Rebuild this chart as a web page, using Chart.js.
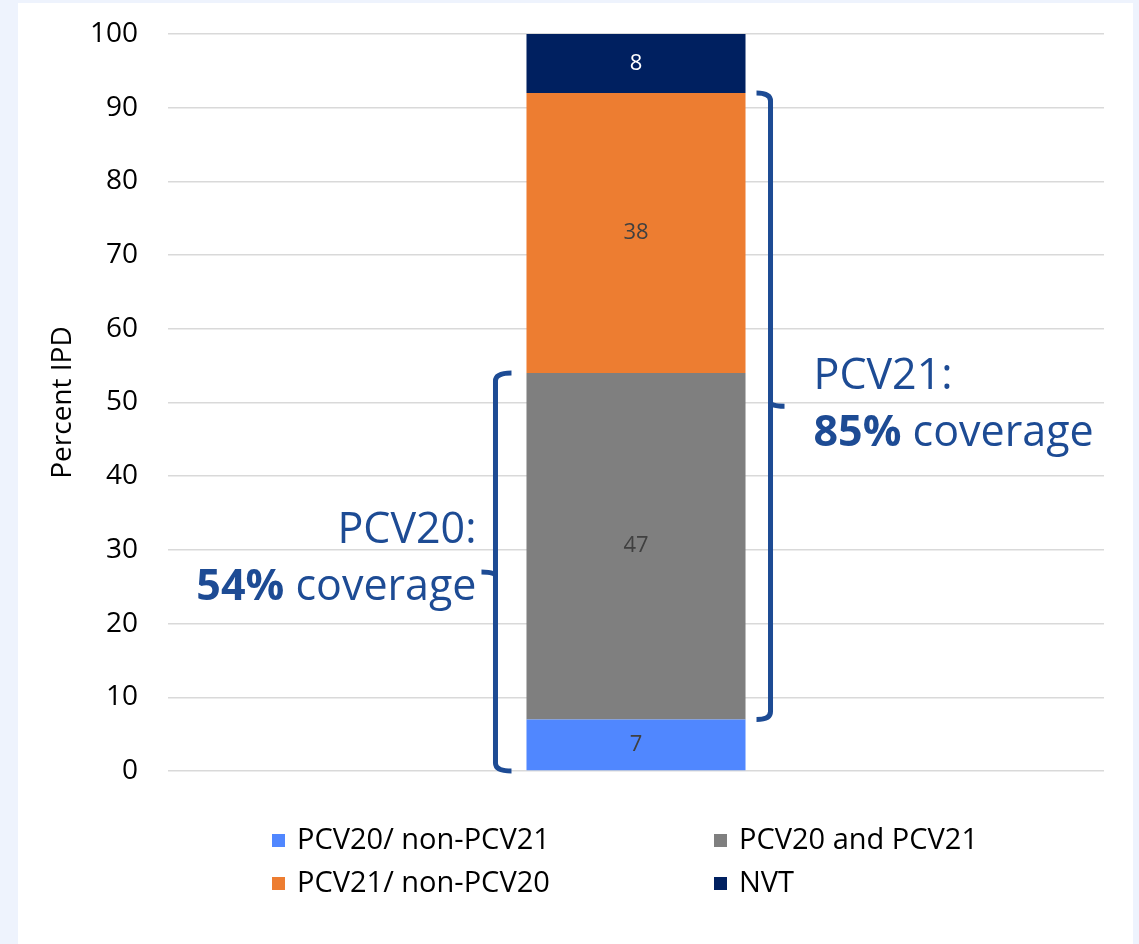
<!DOCTYPE html>
<html>
<head>
<meta charset="utf-8">
<script src="https://cdn.jsdelivr.net/npm/chart.js@4"></script>
<style>
  html, body { margin: 0; padding: 0; background: #eef3fd; }
  #panel { position: absolute; left: 18px; top: 3px; width: 1115px; height: 941px; background: #ffffff; }
</style>
</head>
<body>
<div id="panel"><canvas id="chart" width="1115" height="941"></canvas></div>
<script>
// chart data
const categories = ["IPD"];
const seriesNames = ["PCV20/ non-PCV21", "PCV20 and PCV21", "PCV21/ non-PCV20", "NVT"];
const seriesValues = [[7], [47], [38], [8]];
const seriesColors = ["#5087ff", "#7f7f7f", "#ed7d31", "#002060"];
const labelColors = ["#404040", "#404040", "#404040", "#ffffff"];
const yTicks = [0, 10, 20, 30, 40, 50, 60, 70, 80, 90, 100];

const BLUE = "#1d4b94";
const FONT = "'Open Sans', sans-serif";

// value labels in the middle of each segment
const segmentLabels = {
  id: "segmentLabels",
  afterDatasetsDraw(chart) {
    const ctx = chart.ctx;
    ctx.save();
    ctx.font = "22px " + FONT;
    ctx.textAlign = "center";
    ctx.textBaseline = "middle";
    chart.data.datasets.forEach((ds, i) => {
      chart.getDatasetMeta(i).data.forEach((bar, j) => {
        const p = bar.getProps(["x", "y", "base"], true);
        ctx.fillStyle = labelColors[i];
        ctx.fillText(ds.data[j], p.x, (p.y + p.base) / 2);
      });
    });
    ctx.restore();
  }
};

// draw a line of text made of [text, bold] parts
function drawParts(ctx, parts, x, y, align) {
  const size = 43;
  const widths = parts.map(p => {
    ctx.font = (p[1] ? "bold " : "") + size + "px " + FONT;
    return ctx.measureText(p[0]).width;
  });
  const total = widths.reduce((a, b) => a + b, 0);
  let cx = align === "right" ? x - total : x;
  parts.forEach((p, k) => {
    ctx.font = (p[1] ? "bold " : "") + size + "px " + FONT;
    ctx.fillText(p[0], cx, y);
    cx += widths[k];
  });
}

// coverage brackets and texts
const coverage = {
  id: "coverage",
  afterDraw(chart) {
    const ctx = chart.ctx;
    const y = chart.scales.y;
    const bar = chart.getDatasetMeta(0).data[0];
    const half = bar.width / 2;
    const v = seriesValues.map(s => s[0]);
    const pcv20 = v[0] + v[1];
    const pcv21 = v[1] + v[2];

    ctx.save();
    ctx.strokeStyle = BLUE;
    ctx.fillStyle = BLUE;
    ctx.lineWidth = 5;
    ctx.lineJoin = "round";

    // left bracket: 0 .. pcv20
    let bx = bar.x - half - 31;
    let top = y.getPixelForValue(pcv20), bot = y.getPixelForValue(0), mid = (top + bot) / 2;
    ctx.beginPath();
    ctx.moveTo(bx + 16, top);
    ctx.quadraticCurveTo(bx, top, bx, top + 8);
    ctx.lineTo(bx, bot - 8);
    ctx.quadraticCurveTo(bx, bot, bx + 16, bot);
    ctx.moveTo(bx, mid + 4);
    ctx.quadraticCurveTo(bx, mid, bx - 14, mid);
    ctx.stroke();
    ctx.textBaseline = "alphabetic";
    drawParts(ctx, [["PCV20:", false]], bx - 19, mid - 29, "right");
    drawParts(ctx, [[pcv20 + "%", true], [" coverage", false]], bx - 19, mid + 28, "right");

    // right bracket: v[0] .. v[0]+pcv21
    bx = bar.x + half + 25;
    top = y.getPixelForValue(v[0] + pcv21); bot = y.getPixelForValue(v[0]); mid = (top + bot) / 2;
    ctx.beginPath();
    ctx.moveTo(bx - 14, top);
    ctx.quadraticCurveTo(bx, top, bx, top + 8);
    ctx.lineTo(bx, bot - 8);
    ctx.quadraticCurveTo(bx, bot, bx - 14, bot);
    ctx.moveTo(bx, mid - 4);
    ctx.quadraticCurveTo(bx, mid, bx + 14, mid);
    ctx.stroke();
    drawParts(ctx, [["PCV21:", false]], bx + 43, mid - 17, "left");
    drawParts(ctx, [[pcv21 + "%", true], [" coverage", false]], bx + 43, mid + 40, "left");
    ctx.restore();
  }
};

// two column legend under the plot
const gridLegend = {
  id: "gridLegend",
  afterDraw(chart) {
    const ctx = chart.ctx;
    const a = chart.chartArea;
    const cols = [a.left + 104, a.left + 546];
    const rows = [a.bottom + 70, a.bottom + 113];
    ctx.save();
    ctx.font = "29px " + FONT;
    ctx.textBaseline = "middle";
    ctx.textAlign = "left";
    chart.data.datasets.forEach((ds, i) => {
      const x = cols[i % 2], yy = rows[Math.floor(i / 2)];
      ctx.fillStyle = ds.backgroundColor;
      ctx.fillRect(x, yy - 7, 13, 13);
      ctx.fillStyle = "#000000";
      ctx.fillText(ds.label, x + 25, yy);
    });
    ctx.restore();
  }
};

new Chart(document.getElementById("chart"), {
  type: "bar",
  data: {
    labels: categories,
    datasets: seriesNames.map((name, i) => ({
      label: name,
      data: seriesValues[i],
      backgroundColor: seriesColors[i],
      borderWidth: 0,
      barPercentage: 0.234,
      categoryPercentage: 1
    }))
  },
  options: {
    responsive: false,
    animation: false,
    layout: { padding: { left: 0, top: 31, right: 29, bottom: 173 } },
    plugins: {
      legend: { display: false },
      tooltip: { enabled: false }
    },
    scales: {
      x: {
        stacked: true,
        display: false
      },
      y: {
        stacked: true,
        min: 0,
        max: 100,
        afterFit(scale) {
          scale.width = 150;
          scale.paddingTop = 0;
          scale.paddingBottom = 0;
        },
        afterBuildTicks(scale) { scale.ticks = yTicks.map(t => ({ value: t })); },
        border: { display: false },
        grid: { color: "#d9d9d9", lineWidth: 1.5, drawTicks: false },
        ticks: {
          padding: 30,
          color: "#000000",
          font: { family: FONT, size: 28 }
        },
        title: {
          display: true,
          text: "Percent IPD",
          color: "#000000",
          font: { family: FONT, size: 28 },
          padding: { top: 28, bottom: 0 }
        }
      }
    }
  },
  plugins: [segmentLabels, coverage, gridLegend]
});
</script>
</body>
</html>
